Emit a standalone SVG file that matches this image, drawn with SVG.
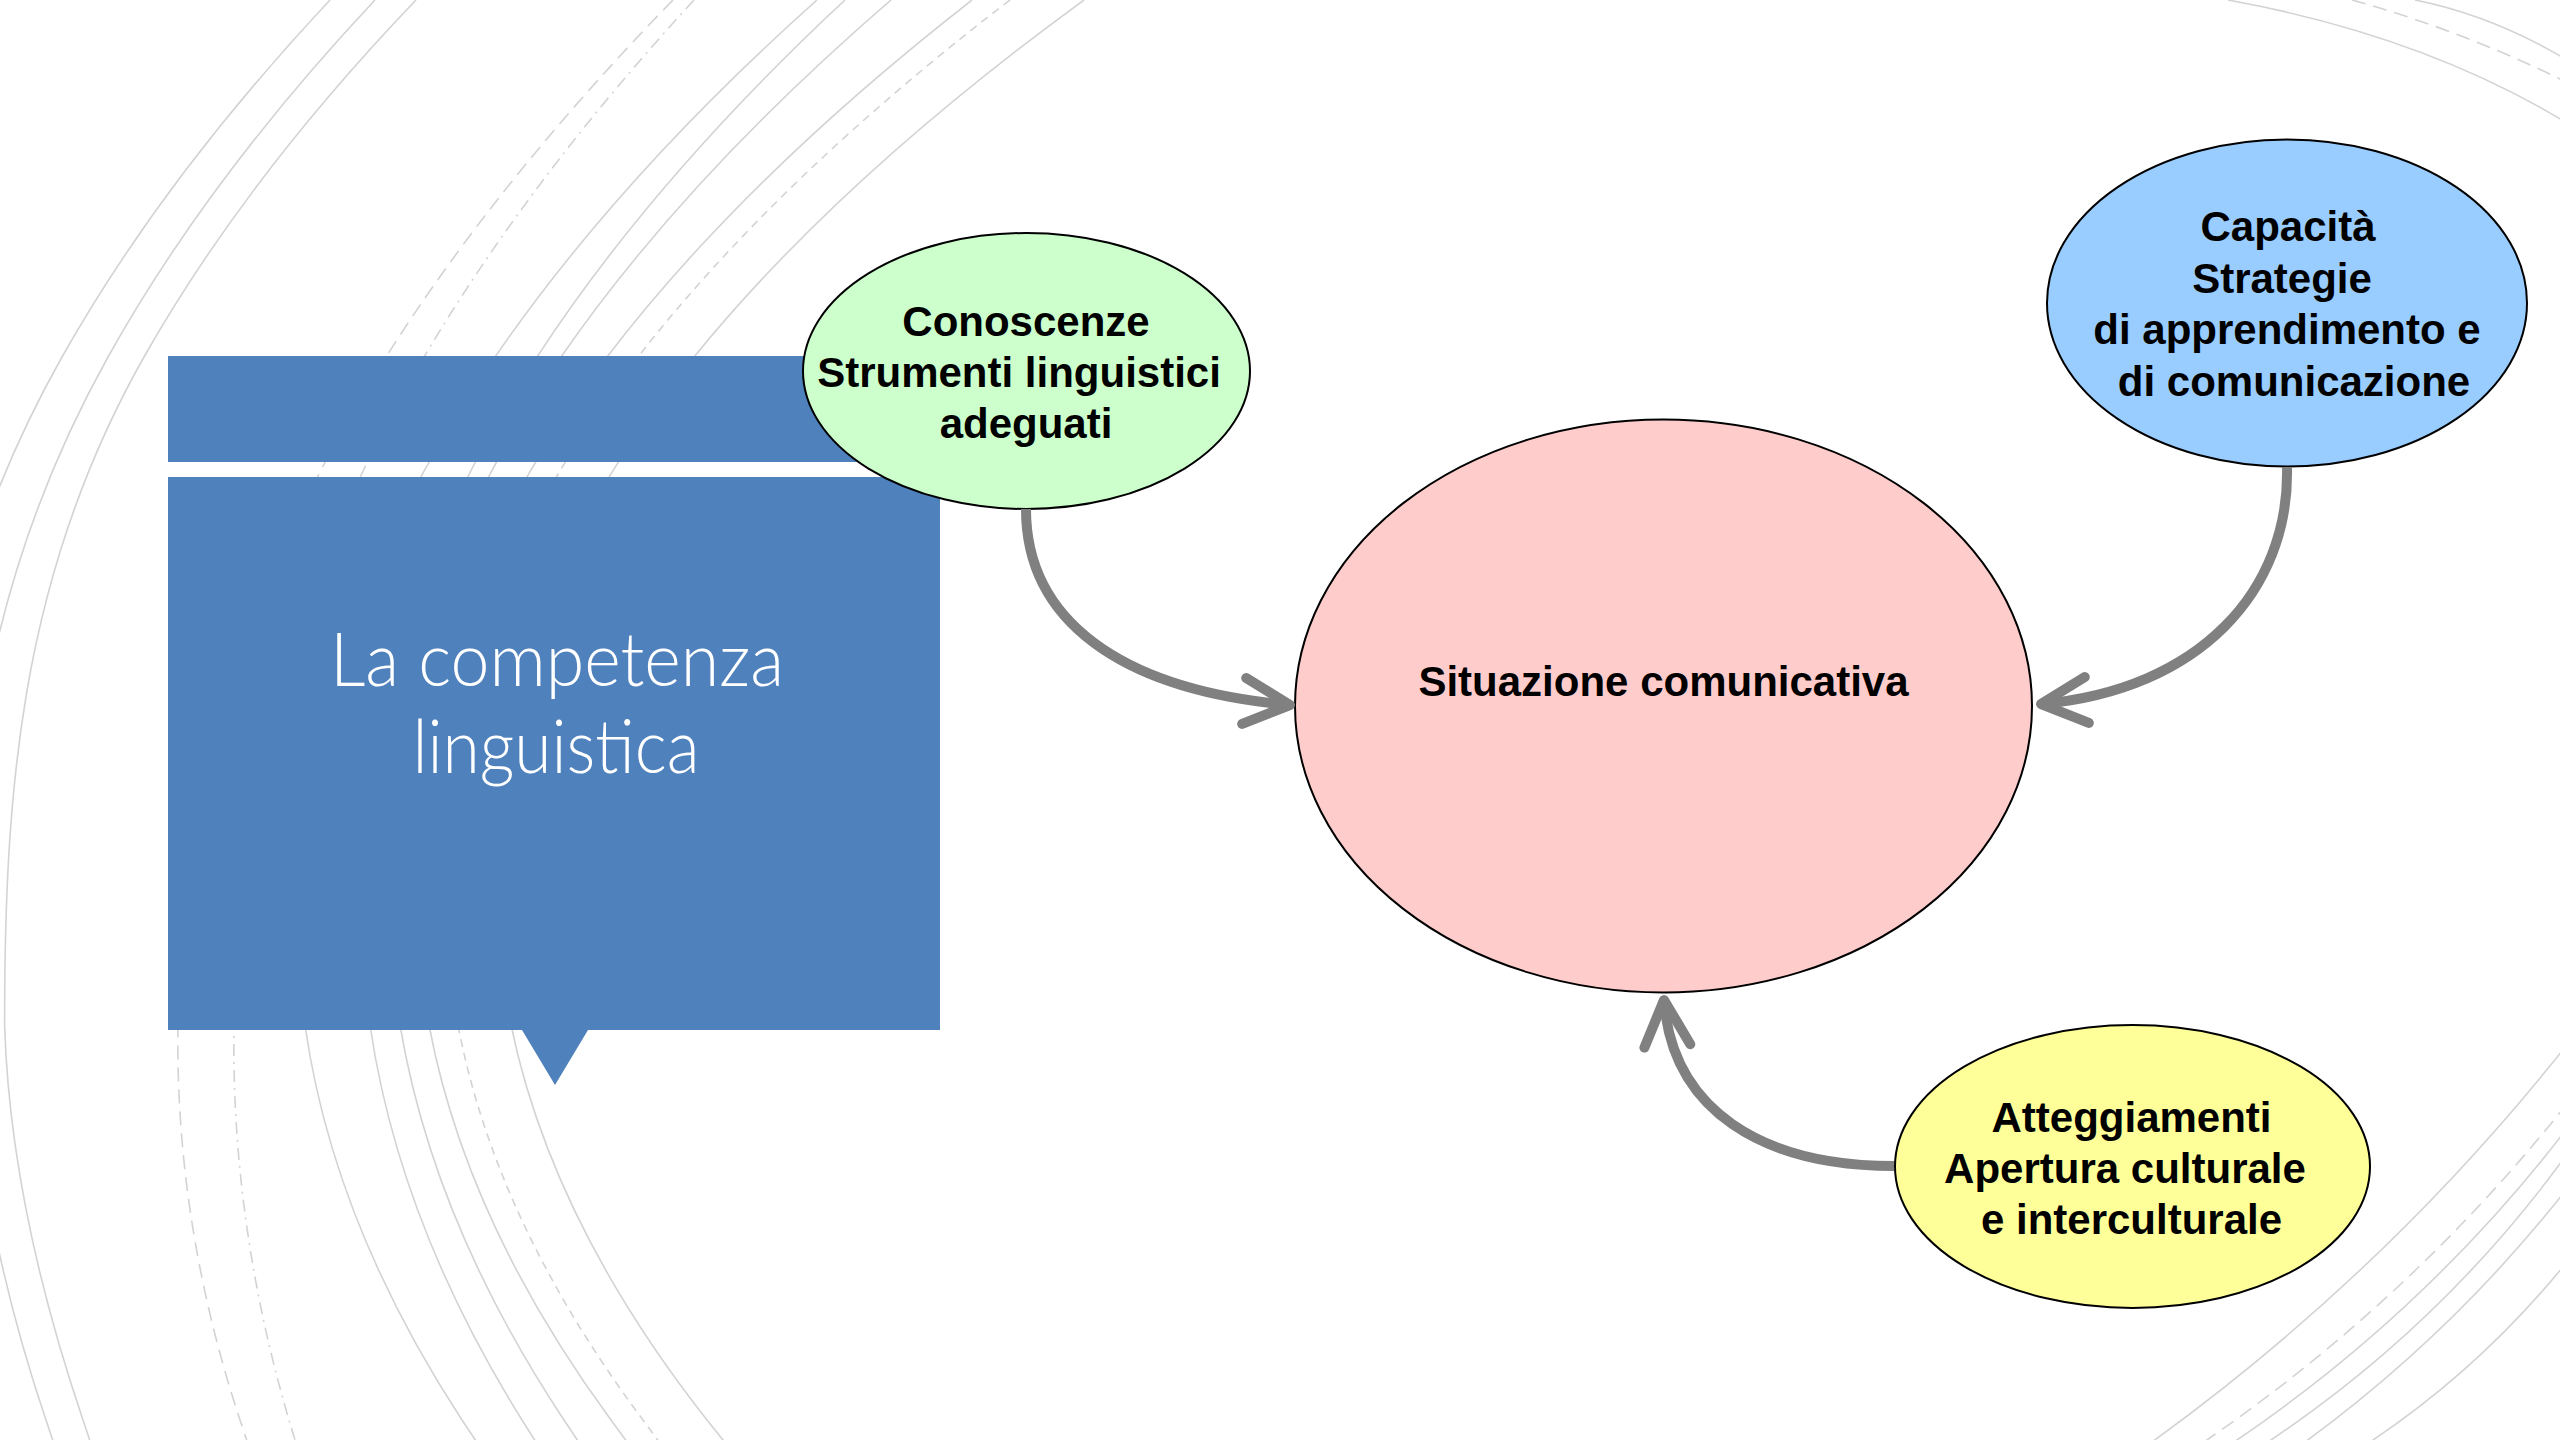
<svg xmlns="http://www.w3.org/2000/svg" width="2560" height="1440" viewBox="0 0 2560 1440">
  <style>
    .arc { fill: none; stroke: #d3d3d3; stroke-width: 1.6; }
    .dash { stroke-dasharray: 14 8; }
    .dashdot { stroke-dasharray: 12 6 2 6; }
    .sdash { stroke-dasharray: 8 6; }
    .bubble { stroke: #000000; stroke-width: 2; }
    .lbl { font-family: "Liberation Sans", Arial, sans-serif; font-weight: bold; font-size: 42px; fill: #000000; text-anchor: middle; }
    .title { font-family: Lato, "Open Sans", sans-serif; font-weight: 300; font-size: 75px; fill: #ffffff; text-anchor: middle; }
    .conn { fill: none; stroke: #808080; stroke-width: 10; marker-end: url(#chev); }
  </style>
  <defs>
    <marker id="chev" markerUnits="userSpaceOnUse" viewBox="-60 -35 70 70" markerWidth="70" markerHeight="70" refX="0" refY="0" orient="auto">
      <path d="M-46,-23 L0,0 L-46,23" fill="none" stroke="#808080" stroke-width="10" stroke-linecap="round" stroke-linejoin="round"/>
    </marker>
  </defs>

  <rect x="0" y="0" width="2560" height="1440" fill="#ffffff"/>

  <g id="background-arcs">
    <path class="arc" d="M330,0 C218.5,119 129.2,238 62,357 C-63.7,579.7 -91.8,802.3 -85,1025 C-81,1156.7 -59.3,1288.3 -20,1420 L-11,1450"/>
    <path class="arc" d="M375,0 C263.4,119 174.4,238 108,357 C-16.3,579.7 -44.3,802.3 -32,1025 C-24.7,1156.7 1.3,1288.3 46,1420 L56,1450"/>
    <path class="arc" d="M416,0 C302.1,119 211.5,238 144,357 C17.7,579.7 4.6,802.3 4.6,1025 C8.6,1156.7 38.3,1288.3 83,1420 L93,1450"/>
    <path class="arc dash" d="M673,0 C557,119 461.3,238 386,357 C245.1,579.7 181.5,802.3 178,1025 C175.9,1156.7 196.6,1288.3 240,1420 L250,1450"/>
    <path class="arc dashdot" d="M694,0 C584.5,119 494.5,238 424,357 C292.1,579.7 237.5,802.3 234,1025 C231.9,1156.7 250.3,1288.3 289,1420 L298,1450"/>
    <path class="arc" d="M817,0 C683.7,119 576.9,238 495,357 C341.8,579.7 273.6,802.3 305,1025 C323.6,1156.7 375.9,1288.3 462,1420 L482,1450"/>
    <path class="arc" d="M845,0 C717.2,119 614.6,238 537,357 C391.9,579.7 337.5,802.3 370,1025 C389.2,1156.7 439.8,1288.3 522,1420 L541,1450"/>
    <path class="arc" d="M891,0 C753.2,119 643.2,238 561,357 C407.1,579.7 362.7,802.3 400,1025 C422,1156.7 476.7,1288.3 564,1420 L584,1450"/>
    <path class="arc" d="M972,0 C819.5,119 697.8,238 607,357 C437,579.7 387.3,802.3 429,1025 C453.7,1156.7 514.3,1288.3 611,1420 L633,1450"/>
    <path class="arc sdash" d="M1010,0 C854.6,119 730.6,238 638,357 C464.6,579.7 415.8,802.3 458,1025 C483,1156.7 544.6,1288.3 643,1420 L665,1450"/>
    <path class="arc" d="M1084,0 C920.7,119 790.7,238 694,357 C513.1,579.7 465,802.3 511,1025 C538.2,1156.7 603.5,1288.3 707,1420 L731,1450"/>

    <path class="arc" d="M2228,0 Q2420,35 2562,120"/>
    <path class="arc dash" d="M2352,0 Q2460,30 2562,80"/>
    <path class="arc" d="M2415,0 Q2490,15 2562,57"/>

    <path class="arc" d="M2152,1442 Q2384,1274 2562,1051"/>
    <path class="arc dash" d="M2204,1442 Q2408,1302 2562,1110"/>
    <path class="arc" d="M2234,1442 Q2423,1314 2562,1135"/>
    <path class="arc" d="M2268,1442 Q2440,1327 2562,1161"/>
    <path class="arc" d="M2305,1442 Q2450,1336 2562,1195"/>
    <path class="arc" d="M2370,1442 Q2478,1370 2562,1268"/>
  </g>

  <g id="title-box">
    <rect x="168" y="356" width="772" height="106" fill="#4f81bd"/>
    <path d="M168,477 H940 V1030 H588 L555,1085 L522,1030 H168 Z" fill="#4f81bd"/>
    <text class="title" x="557" y="686" textLength="454" lengthAdjust="spacingAndGlyphs">La competenza</text>
    <text class="title" x="556" y="773" textLength="287" lengthAdjust="spacingAndGlyphs">linguistica</text>
  </g>

  <g id="node-situazione">
    <ellipse class="bubble" cx="1663.5" cy="706" rx="368.5" ry="286.5" fill="#ffcccc"/>
    <text class="lbl" x="1663.5" y="696">Situazione comunicativa</text>
  </g>

  <g id="node-conoscenze">
    <ellipse class="bubble" cx="1026.5" cy="371" rx="223.5" ry="138" fill="#ccffcc"/>
    <text class="lbl" x="1026" y="336">Conoscenze</text>
    <text class="lbl" x="1019" y="387">Strumenti linguistici</text>
    <text class="lbl" x="1026" y="438">adeguati</text>
  </g>

  <g id="node-capacita">
    <ellipse class="bubble" cx="2287" cy="303" rx="240" ry="163.5" fill="#99ccff"/>
    <text class="lbl" x="2288" y="241">Capacità</text>
    <text class="lbl" x="2282" y="292.5">Strategie</text>
    <text class="lbl" x="2287" y="344">di apprendimento e</text>
    <text class="lbl" x="2294" y="395.5">di comunicazione</text>
  </g>

  <g id="node-atteggiamenti">
    <ellipse class="bubble" cx="2132.5" cy="1166.5" rx="237.5" ry="141.5" fill="#ffff99"/>
    <text class="lbl" x="2131.5" y="1132">Atteggiamenti</text>
    <text class="lbl" x="2125" y="1183">Apertura culturale</text>
    <text class="lbl" x="2131.5" y="1234">e interculturale</text>
  </g>

  <g id="connectors">
    <path class="conn" d="M1026,509 C1026,620 1120,690 1290,705"/>
    <path class="conn" d="M2287,467 C2290,590 2200,690 2041,704"/>
    <path class="conn" d="M1894,1166 C1762,1166 1672,1110 1664,1000"/>
  </g>
</svg>
